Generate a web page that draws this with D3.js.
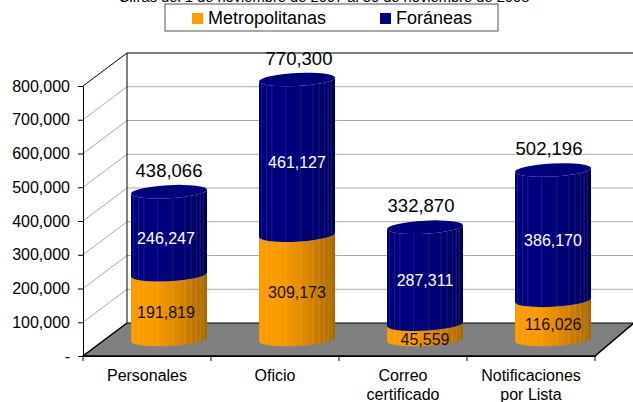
<!DOCTYPE html>
<html>
<head>
<meta charset="utf-8">
<script src="https://cdnjs.cloudflare.com/ajax/libs/d3/7.8.5/d3.min.js"></script>
<style>
  html, body { margin: 0; padding: 0; background: #fff; }
  svg { display: block; font-family: "Liberation Sans", Arial, sans-serif; }
</style>
</head>
<body>
<svg class="target" width="633" height="402"></svg>
<script>
const titleText = "Cifras del 1 de noviembre de 2007 al 30 de noviembre de 2008";
const categories = ["Personales", "Oficio", "Correo certificado", "Notificaciones por Lista"];
const categoryLines = [["Personales"], ["Oficio"], ["Correo", "certificado"], ["Notificaciones", "por Lista"]];
const metropolitanas = [191819, 309173, 45559, 116026];
const foraneas = [246247, 461127, 287311, 386170];
const yTicks = [0, 100000, 200000, 300000, 400000, 500000, 600000, 700000, 800000];
const seriesNames = ["Metropolitanas", "Foráneas"];

const svg = d3.select(".target");
const fmt = d3.format(",");

// front plane of the 3d box, the back plane is this shifted by depth
const plotLeft = 83, plotRight = 595, plotBottom = 356, plotTop = 86;
const depthX = 44, depthY = -33;

const y = d3.scaleLinear().domain([0, 800000]).range([plotBottom, plotTop]);
const x = d3.scaleBand().domain(categories).range([plotLeft, plotRight]);

// walls and floor
svg.append("path")
  .attr("d", `M${plotLeft},${plotBottom}L${plotLeft + depthX},${plotBottom + depthY}L634,${plotBottom + depthY}L${plotRight},${plotBottom}Z`)
  .attr("fill", "#808080");

yTicks.slice(1).forEach((t) => {
  svg.append("path")
    .attr("d", `M${plotLeft},${y(t)}L${plotLeft + depthX},${y(t) + depthY}L633,${y(t) + depthY}`)
    .attr("fill", "none")
    .attr("stroke", t === 800000 ? "#000" : "#aaa")
    .attr("stroke-width", 1);
});

svg.append("path")
  .attr("d", `M${plotLeft + depthX},${y(800000) + depthY}L${plotLeft + depthX},${plotBottom + depthY}L633,${plotBottom + depthY}`)
  .attr("fill", "none")
  .attr("stroke", "#000");
svg.append("path")
  .attr("d", `M${plotLeft + depthX},${plotBottom + depthY}L${plotLeft},${plotBottom}L${plotRight},${plotBottom}L634,${plotBottom + depthY}`)
  .attr("fill", "none")
  .attr("stroke", "#000")
  .attr("stroke-width", 1.5);

// axes
const yAxis = svg.append("g")
  .attr("transform", `translate(${plotLeft},0)`)
  .call(d3.axisLeft(y).tickValues(yTicks).tickSize(5).tickSizeOuter(0).tickPadding(8)
    .tickFormat((d) => (d === 0 ? "-" : fmt(d))));
yAxis.selectAll("text").attr("font-size", 16).attr("font-family", null).attr("fill", "#000");
yAxis.selectAll("line, path").attr("stroke", "#000");

const xAxis = svg.append("g")
  .attr("transform", `translate(0,${plotBottom})`)
  .call(d3.axisBottom(x).tickSize(0).tickPadding(0).tickFormat(""));
xAxis.select("path").attr("stroke", "#000");
xAxis.selectAll("text").remove();

categories.forEach((c, i) => {
  svg.append("line")
    .attr("x1", x(c)).attr("x2", x(c))
    .attr("y1", plotBottom).attr("y2", plotBottom + 5)
    .attr("stroke", "#000");
  const label = svg.append("text")
    .attr("text-anchor", "middle")
    .attr("font-size", 16)
    .attr("fill", "#000");
  categoryLines[i].forEach((line, j) => {
    label.append("tspan")
      .attr("x", x(c) + x.bandwidth() / 2)
      .attr("y", 381 + j * 19)
      .text(line);
  });
});
svg.append("line")
  .attr("x1", plotRight).attr("x2", plotRight)
  .attr("y1", plotBottom).attr("y2", plotBottom + 5)
  .attr("stroke", "#000");

// cylinders
const defs = svg.append("defs");
function gradient(id, stops) {
  const g = defs.append("linearGradient").attr("id", id);
  stops.forEach((s) => g.append("stop").attr("offset", s[0]).attr("stop-color", s[1]));
}
gradient("orange", [[0, "#f99a00"], [0.3, "#fa9c00"], [0.65, "#d98600"], [1, "#a66700"]]);
gradient("navy", [[0, "#00007a"], [0.35, "#000080"], [0.75, "#00006f"], [1, "#00005c"]]);

const rx = 38, ry = 6.5, tilt = 2;
const midY = (v) => y(v) + depthY / 2;

// body between two values, with the front edge of each end curved downwards
function bodyPath(cx, v0, v1) {
  const yb = midY(v0), yt = midY(v1);
  return `M${cx - rx},${yt + tilt}` +
    `A${rx},${ry} -3 0 0 ${cx + rx},${yt - tilt}` +
    `L${cx + rx},${yb - tilt}` +
    `A${rx},${ry} -3 0 1 ${cx - rx},${yb + tilt}Z`;
}

const streakAt = [-0.93, -0.8, -0.66, -0.3, 0.1, 0.42, 0.58, 0.72, 0.82, 0.9];
// the value labels are not quite centred on the cylinders
const totalNudge = [0, 2, -4, -4];
const innerNudge = [-3, 0, 0, 0];

categories.forEach((c, i) => {
  const cx = x(c) + x.bandwidth() / 2 + depthX / 2;
  const m = metropolitanas[i], f = foraneas[i], total = m + f;

  const drawPart = (v0, v1, fill, streak) => {
    const id = `clip-${i}-${fill}`;
    defs.append("clipPath").attr("id", id).append("path").attr("d", bodyPath(cx, v0, v1));
    svg.append("path").attr("d", bodyPath(cx, v0, v1)).attr("fill", `url(#${fill})`);
    svg.append("g").attr("clip-path", `url(#${id})`)
      .selectAll("line").data(streakAt).join("line")
      .attr("x1", (d) => cx + d * rx).attr("x2", (d) => cx + d * rx)
      .attr("y1", midY(v1) - 10).attr("y2", midY(v0) + 10)
      .attr("stroke", streak).attr("stroke-width", 0.8);
  };

  drawPart(0, m, "orange", "rgba(255,200,90,.28)");
  drawPart(m, total, "navy", "rgba(150,150,230,.22)");

  svg.append("ellipse")
    .attr("cx", cx).attr("cy", midY(total))
    .attr("rx", rx).attr("ry", ry)
    .attr("transform", `rotate(-3 ${cx} ${midY(total)})`)
    .attr("fill", "#00007c");

  const inner = (v0, v1, value, color, nudge) => {
    const h = y(v0) - y(v1);
    svg.append("text")
      .attr("x", cx + nudge).attr("y", (midY(v0) + midY(v1)) / 2 + (h < 30 ? 8 : 5) + 5.5)
      .attr("text-anchor", "middle")
      .attr("font-size", 16)
      .attr("fill", color)
      .text(fmt(value));
  };
  inner(0, m, m, "#111", innerNudge[i]);
  inner(m, total, f, "#fff", innerNudge[i]);

  svg.append("text")
    .attr("x", cx + totalNudge[i]).attr("y", midY(total) - 21 + 6)
    .attr("text-anchor", "middle")
    .attr("font-size", 18.5)
    .attr("fill", "#000")
    .text(fmt(total));
});

// title sits half cut off by the top edge, same as the original
svg.append("text")
  .attr("x", 324).attr("y", 2)
  .attr("text-anchor", "middle")
  .attr("font-size", 14.7)
  .attr("fill", "#000")
  .text(titleText);

// legend
svg.append("rect")
  .attr("x", 165).attr("y", 4).attr("width", 333).attr("height", 27)
  .attr("fill", "#fff").attr("stroke", "#555");
const legendX = d3.scaleOrdinal().domain(seriesNames).range([192, 380]);
const legendColor = d3.scaleOrdinal().domain(seriesNames).range(["#ff9e00", "#000080"]);
seriesNames.forEach((s) => {
  svg.append("rect")
    .attr("x", legendX(s)).attr("y", 13).attr("width", 11).attr("height", 11)
    .attr("fill", legendColor(s));
  svg.append("text")
    .attr("x", legendX(s) + 16).attr("y", 24)
    .attr("font-size", 18)
    .attr("fill", "#000")
    .text(s);
});
</script>
</body>
</html>
